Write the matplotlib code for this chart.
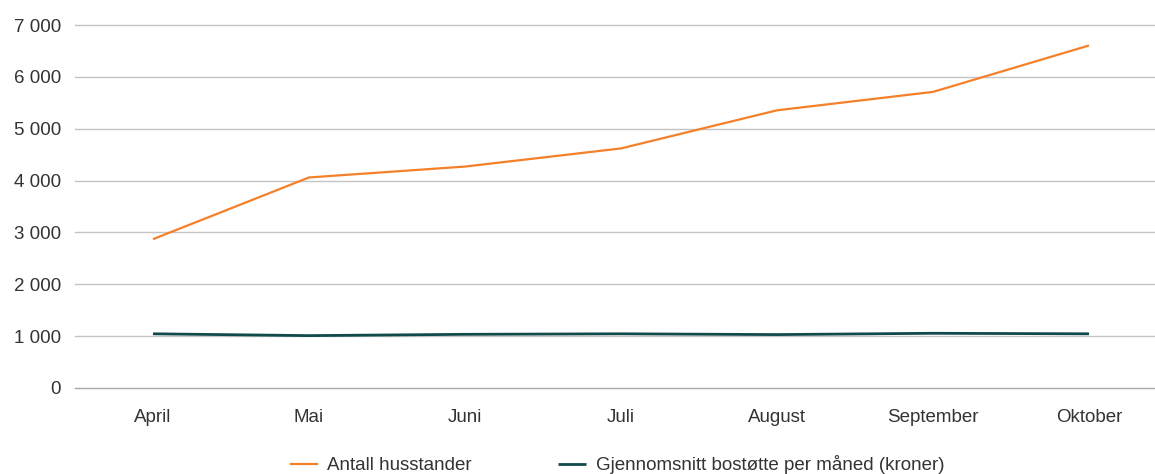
import matplotlib
matplotlib.use("Agg")
import matplotlib.pyplot as plt

months = ["April", "Mai", "Juni", "Juli", "August", "September", "Oktober"]
husstander = [2870, 4060, 4270, 4620, 5355, 5710, 6605]
bostotte = [1045, 1010, 1035, 1045, 1030, 1055, 1045]
yticks = [0, 1000, 2000, 3000, 4000, 5000, 6000, 7000]
ytick_labels = ["0", "1 000", "2 000", "3 000", "4 000", "5 000", "6 000", "7 000"]

plt.rcParams['font.family'] = ['Liberation Sans', 'DejaVu Sans']
W, H = 1155, 474
fig = plt.figure(figsize=(W / 100, H / 100), dpi=100)
left, right, top, bottom = 75, 1155, 25, 388
ax = fig.add_axes([left / W, (H - bottom) / H, (right - left) / W, (bottom - top) / H])

x = list(range(len(months)))
ax.plot(x, husstander, color="#f5802a", lw=1.6, label="Antall husstander", solid_capstyle="butt")
ax.plot(x, bostotte, color="#114a4a", lw=2.0, label="Gjennomsnitt bostøtte per måned (kroner)", solid_capstyle="butt")

step = 156
ax.set_xlim(-0.5, -0.5 + (right - left) / step)
ax.set_ylim(0, 7000)
ax.set_yticks(yticks)
ax.set_yticklabels(ytick_labels)
ax.set_xticks(x)
ax.set_xticklabels(months)
ax.tick_params(axis="y", length=0, pad=10, labelsize=13.5, labelcolor="#333333")
ax.tick_params(axis="x", length=0, pad=15, labelsize=13.5, labelcolor="#333333")
for s in ax.spines.values():
    s.set_visible(False)
ax.grid(axis="y", color="#c4c4c4", lw=1.0)
for gl in ax.get_ygridlines():
    gl.set_clip_on(False)
ax.get_ygridlines()[0].set_color("#a8a8a8")
ax.set_axisbelow(True)

fig.legend(loc="center", bbox_to_anchor=(617 / W, 1 - 465 / H), ncol=2, frameon=False,
           fontsize=13.5, handlelength=1.5, handletextpad=0.5, columnspacing=4.6,
           labelcolor="#333333")

fig.savefig("out.png", dpi=100)
